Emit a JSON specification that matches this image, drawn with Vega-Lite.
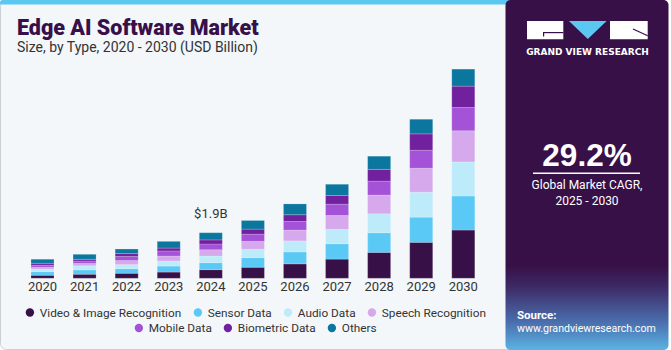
{
  "$schema": "https://vega.github.io/schema/vega-lite/v6.json",
  "width": 671,
  "height": 290,
  "autosize": {"type": "none"},
  "padding": {"top": 60, "left": 0, "right": 0, "bottom": 0},
  "background": "white",
  "config": {"view": {"stroke": null}, "font": "Roboto"},
  "datasets": {
    "bars": [
      {"year": "2020", "type": "Video & Image Recognition", "o": 1, "value": 0.125},
      {"year": "2020", "type": "Sensor Data", "o": 2, "value": 0.15},
      {"year": "2020", "type": "Audio Data", "o": 3, "value": 0.11},
      {"year": "2020", "type": "Speech Recognition", "o": 4, "value": 0.08},
      {"year": "2020", "type": "Mobile Data", "o": 5, "value": 0.08},
      {"year": "2020", "type": "Biometric Data", "o": 6, "value": 0.08},
      {"year": "2020", "type": "Others", "o": 7, "value": 0.17},
      {"year": "2021", "type": "Video & Image Recognition", "o": 1, "value": 0.17},
      {"year": "2021", "type": "Sensor Data", "o": 2, "value": 0.18},
      {"year": "2021", "type": "Audio Data", "o": 3, "value": 0.17},
      {"year": "2021", "type": "Speech Recognition", "o": 4, "value": 0.10},
      {"year": "2021", "type": "Mobile Data", "o": 5, "value": 0.10},
      {"year": "2021", "type": "Biometric Data", "o": 6, "value": 0.07},
      {"year": "2021", "type": "Others", "o": 7, "value": 0.21},
      {"year": "2022", "type": "Video & Image Recognition", "o": 1, "value": 0.21},
      {"year": "2022", "type": "Sensor Data", "o": 2, "value": 0.19},
      {"year": "2022", "type": "Audio Data", "o": 3, "value": 0.17},
      {"year": "2022", "type": "Speech Recognition", "o": 4, "value": 0.17},
      {"year": "2022", "type": "Mobile Data", "o": 5, "value": 0.17},
      {"year": "2022", "type": "Biometric Data", "o": 6, "value": 0.12},
      {"year": "2022", "type": "Others", "o": 7, "value": 0.19},
      {"year": "2023", "type": "Video & Image Recognition", "o": 1, "value": 0.26},
      {"year": "2023", "type": "Sensor Data", "o": 2, "value": 0.25},
      {"year": "2023", "type": "Audio Data", "o": 3, "value": 0.21},
      {"year": "2023", "type": "Speech Recognition", "o": 4, "value": 0.21},
      {"year": "2023", "type": "Mobile Data", "o": 5, "value": 0.21},
      {"year": "2023", "type": "Biometric Data", "o": 6, "value": 0.12},
      {"year": "2023", "type": "Others", "o": 7, "value": 0.28},
      {"year": "2024", "type": "Video & Image Recognition", "o": 1, "value": 0.36},
      {"year": "2024", "type": "Sensor Data", "o": 2, "value": 0.29},
      {"year": "2024", "type": "Audio Data", "o": 3, "value": 0.28},
      {"year": "2024", "type": "Speech Recognition", "o": 4, "value": 0.26},
      {"year": "2024", "type": "Mobile Data", "o": 5, "value": 0.24},
      {"year": "2024", "type": "Biometric Data", "o": 6, "value": 0.17},
      {"year": "2024", "type": "Others", "o": 7, "value": 0.30},
      {"year": "2025", "type": "Video & Image Recognition", "o": 1, "value": 0.46},
      {"year": "2025", "type": "Sensor Data", "o": 2, "value": 0.40},
      {"year": "2025", "type": "Audio Data", "o": 3, "value": 0.35},
      {"year": "2025", "type": "Speech Recognition", "o": 4, "value": 0.33},
      {"year": "2025", "type": "Mobile Data", "o": 5, "value": 0.30},
      {"year": "2025", "type": "Biometric Data", "o": 6, "value": 0.21},
      {"year": "2025", "type": "Others", "o": 7, "value": 0.36},
      {"year": "2026", "type": "Video & Image Recognition", "o": 1, "value": 0.60},
      {"year": "2026", "type": "Sensor Data", "o": 2, "value": 0.50},
      {"year": "2026", "type": "Audio Data", "o": 3, "value": 0.46},
      {"year": "2026", "type": "Speech Recognition", "o": 4, "value": 0.45},
      {"year": "2026", "type": "Mobile Data", "o": 5, "value": 0.36},
      {"year": "2026", "type": "Biometric Data", "o": 6, "value": 0.28},
      {"year": "2026", "type": "Others", "o": 7, "value": 0.45},
      {"year": "2027", "type": "Video & Image Recognition", "o": 1, "value": 0.80},
      {"year": "2027", "type": "Sensor Data", "o": 2, "value": 0.64},
      {"year": "2027", "type": "Audio Data", "o": 3, "value": 0.60},
      {"year": "2027", "type": "Speech Recognition", "o": 4, "value": 0.58},
      {"year": "2027", "type": "Mobile Data", "o": 5, "value": 0.47},
      {"year": "2027", "type": "Biometric Data", "o": 6, "value": 0.36},
      {"year": "2027", "type": "Others", "o": 7, "value": 0.47},
      {"year": "2028", "type": "Video & Image Recognition", "o": 1, "value": 1.08},
      {"year": "2028", "type": "Sensor Data", "o": 2, "value": 0.82},
      {"year": "2028", "type": "Audio Data", "o": 3, "value": 0.79},
      {"year": "2028", "type": "Speech Recognition", "o": 4, "value": 0.78},
      {"year": "2028", "type": "Mobile Data", "o": 5, "value": 0.58},
      {"year": "2028", "type": "Biometric Data", "o": 6, "value": 0.49},
      {"year": "2028", "type": "Others", "o": 7, "value": 0.55},
      {"year": "2029", "type": "Video & Image Recognition", "o": 1, "value": 1.50},
      {"year": "2029", "type": "Sensor Data", "o": 2, "value": 1.05},
      {"year": "2029", "type": "Audio Data", "o": 3, "value": 1.04},
      {"year": "2029", "type": "Speech Recognition", "o": 4, "value": 1.00},
      {"year": "2029", "type": "Mobile Data", "o": 5, "value": 0.75},
      {"year": "2029", "type": "Biometric Data", "o": 6, "value": 0.68},
      {"year": "2029", "type": "Others", "o": 7, "value": 0.61},
      {"year": "2030", "type": "Video & Image Recognition", "o": 1, "value": 2.01},
      {"year": "2030", "type": "Sensor Data", "o": 2, "value": 1.42},
      {"year": "2030", "type": "Audio Data", "o": 3, "value": 1.42},
      {"year": "2030", "type": "Speech Recognition", "o": 4, "value": 1.30},
      {"year": "2030", "type": "Mobile Data", "o": 5, "value": 0.97},
      {"year": "2030", "type": "Biometric Data", "o": 6, "value": 0.89},
      {"year": "2030", "type": "Others", "o": 7, "value": 0.71}
    ],
    "years": [
      {"year": "2020"}, {"year": "2021"}, {"year": "2022"}, {"year": "2023"},
      {"year": "2024"}, {"year": "2025"}, {"year": "2026"}, {"year": "2027"},
      {"year": "2028"}, {"year": "2029"}, {"year": "2030"}
    ],
    "legend2": [
      {"year": "2030", "type": "Mobile Data"},
      {"year": "2030", "type": "Biometric Data"},
      {"year": "2030", "type": "Others"}
    ],
    "note": [{"year": "2024", "v": 1.9, "label": "$1.9B"}],
    "one": [{}]
  },
  "layer": [
    {
      "data": {"name": "one"},
      "mark": {"type": "rect", "fill": "#F3F7FA", "stroke": "#C9CFD5", "strokeWidth": 1, "cornerRadius": 6},
      "encoding": {"x": {"value": 0.5}, "x2": {"value": 520}, "y": {"value": -59.5}, "y2": {"value": 289.5}}
    },
    {
      "data": {"name": "one"},
      "mark": {"type": "rect", "fill": "#5BC8F2", "cornerRadiusTopLeft": 5},
      "encoding": {"x": {"value": 0}, "x2": {"value": 520}, "y": {"value": -60}, "y2": {"value": -55.5}}
    },
    {
      "data": {"name": "one"},
      "mark": {
        "type": "rect",
        "cornerRadius": 5,
        "fill": {
          "gradient": "linear", "x1": 0, "y1": 0, "x2": 0, "y2": 1,
          "stops": [
            {"offset": 0, "color": "#381048"},
            {"offset": 0.76, "color": "#381048"},
            {"offset": 0.82, "color": "#3D2A66"},
            {"offset": 0.92, "color": "#4A6EAD"},
            {"offset": 1, "color": "#5BB3E3"}
          ]
        }
      },
      "encoding": {"x": {"value": 505.5}, "x2": {"value": 668.5}, "y": {"value": -60}, "y2": {"value": 290}}
    },
    {
      "data": {"name": "one"},
      "mark": {"type": "text", "text": "Edge AI Software Market", "font": "Roboto", "fontSize": 21.5, "fontWeight": 900, "color": "#37104A", "align": "left", "baseline": "alphabetic"},
      "encoding": {"x": {"value": 17}, "y": {"value": -25}}
    },
    {
      "data": {"name": "one"},
      "mark": {"type": "text", "text": "Size, by Type, 2020 - 2030 (USD Billion)", "font": "Roboto", "fontSize": 14, "color": "#333333", "align": "left", "baseline": "alphabetic"},
      "encoding": {"x": {"value": 17}, "y": {"value": -8}}
    },
    {
      "data": {"name": "bars"},
      "mark": {"type": "bar", "stroke": "#FFFFFF", "strokeOpacity": 0.3, "strokeWidth": 0.6},
      "encoding": {
        "x": {
          "field": "year", "type": "ordinal",
          "scale": {"type": "band", "range": [21.46, 484.34], "paddingInner": 0.453, "paddingOuter": 0.2265},
          "axis": null
        },
        "y": {
          "field": "value", "type": "quantitative", "stack": "zero",
          "scale": {"domain": [0, 9.1], "range": [218.3, 0], "nice": false, "zero": true},
          "axis": null
        },
        "color": {
          "field": "type", "type": "nominal",
          "scale": {
            "domain": ["Video & Image Recognition", "Sensor Data", "Audio Data", "Speech Recognition", "Mobile Data", "Biometric Data", "Others"],
            "range": ["#371048", "#5BC9F5", "#BDEBFA", "#D5A9EC", "#A452D8", "#71219E", "#0B779E"]
          },
          "legend": {
            "values": ["Video & Image Recognition", "Sensor Data", "Audio Data", "Speech Recognition"],
            "orient": "none", "legendX": 24, "legendY": 246.5, "direction": "horizontal",
            "title": null, "symbolType": "circle", "symbolSize": 70, "symbolStrokeWidth": 0,
            "labelFont": "Roboto", "labelFontSize": 11.8, "labelColor": "#333333",
            "labelOffset": 4, "columnPadding": 10, "padding": 0
          }
        },
        "order": {"field": "o", "type": "quantitative"}
      }
    },
    {
      "data": {"name": "legend2"},
      "mark": {"type": "bar"},
      "encoding": {
        "x": {"field": "year", "type": "ordinal"},
        "y": {"datum": 0, "type": "quantitative"},
        "fill": {
          "field": "type", "type": "nominal",
          "scale": {"domain": ["Mobile Data", "Biometric Data", "Others"], "range": ["#A452D8", "#71219E", "#0B779E"]},
          "legend": {
            "orient": "none", "legendX": 133, "legendY": 262, "direction": "horizontal",
            "title": null, "symbolType": "circle", "symbolSize": 70, "symbolStrokeWidth": 0,
            "labelFont": "Roboto", "labelFontSize": 11.8, "labelColor": "#333333",
            "labelOffset": 4, "columnPadding": 10, "padding": 0
          }
        }
      }
    },
    {
      "data": {"name": "years"},
      "mark": {"type": "text", "fontSize": 13, "color": "#333333", "baseline": "middle", "dy": 9},
      "encoding": {
        "x": {"field": "year", "type": "ordinal"},
        "y": {"datum": 0, "type": "quantitative"},
        "text": {"field": "year"}
      }
    },
    {
      "data": {"name": "note"},
      "mark": {"type": "text", "fontSize": 13, "color": "#333333", "baseline": "middle", "dy": -19},
      "encoding": {
        "x": {"field": "year", "type": "ordinal"},
        "y": {"field": "v", "type": "quantitative"},
        "text": {"field": "label"}
      }
    },
    {
      "data": {"name": "one"},
      "mark": {"type": "rect", "fill": "#FFFFFF"},
      "encoding": {"x": {"value": 527}, "x2": {"value": 563.3}, "y": {"value": -39}, "y2": {"value": -20.7}}
    },
    {
      "data": {"name": "one"},
      "mark": {"type": "rect", "fill": "#381048"},
      "encoding": {"x": {"value": 543}, "x2": {"value": 563.3}, "y": {"value": -28}, "y2": {"value": -26.8}}
    },
    {
      "data": {"name": "one"},
      "mark": {"type": "rect", "fill": "#381048"},
      "encoding": {"x": {"value": 543}, "x2": {"value": 544.2}, "y": {"value": -28}, "y2": {"value": -23.5}}
    },
    {
      "data": {"name": "one"},
      "mark": {"type": "point", "shape": "M-1,-0.48L1,-0.48L0,0.48Z", "filled": true, "fill": "#5BC8F2", "opacity": 1, "size": 1421, "strokeWidth": 0},
      "encoding": {"x": {"value": 587.8}, "y": {"value": -30}}
    },
    {
      "data": {"name": "one"},
      "mark": {"type": "rect", "fill": "#FFFFFF"},
      "encoding": {"x": {"value": 610}, "x2": {"value": 647.7}, "y": {"value": -39}, "y2": {"value": -20.7}}
    },
    {
      "data": {"name": "one"},
      "mark": {"type": "rule", "color": "#381048", "strokeWidth": 1.2},
      "encoding": {"x": {"value": 633}, "y": {"value": -31}, "x2": {"value": 647.7}, "y2": {"value": -24.3}}
    },
    {
      "data": {"name": "one"},
      "mark": {"type": "text", "text": "GRAND VIEW RESEARCH", "font": "DejaVu Sans", "fontWeight": "bold", "fontSize": 9, "color": "#FFFFFF", "align": "center", "baseline": "middle"},
      "encoding": {"x": {"value": 587.5}, "y": {"value": -8.3}}
    },
    {
      "data": {"name": "one"},
      "mark": {"type": "text", "text": "29.2%", "font": "Liberation Sans", "fontWeight": "bold", "fontSize": 31.5, "color": "#FFFFFF", "align": "center", "baseline": "alphabetic"},
      "encoding": {"x": {"value": 587}, "y": {"value": 105.7}}
    },
    {
      "data": {"name": "one"},
      "mark": {"type": "rule", "color": "#FFFFFF", "strokeWidth": 1.5},
      "encoding": {"x": {"value": 533}, "x2": {"value": 640}, "y": {"value": 113.3}}
    },
    {
      "data": {"name": "one"},
      "mark": {"type": "text", "text": "Global Market CAGR,", "fontSize": 12, "color": "#FFFFFF", "align": "center", "baseline": "middle"},
      "encoding": {"x": {"value": 587}, "y": {"value": 125}}
    },
    {
      "data": {"name": "one"},
      "mark": {"type": "text", "text": "2025 - 2030", "fontSize": 12, "color": "#FFFFFF", "align": "center", "baseline": "middle"},
      "encoding": {"x": {"value": 587}, "y": {"value": 141}}
    },
    {
      "data": {"name": "one"},
      "mark": {"type": "text", "text": "Source:", "fontSize": 11.5, "fontWeight": "bold", "color": "#FFFFFF", "align": "left", "baseline": "middle"},
      "encoding": {"x": {"value": 517}, "y": {"value": 255.7}}
    },
    {
      "data": {"name": "one"},
      "mark": {"type": "text", "text": "www.grandviewresearch.com", "fontSize": 10.6, "color": "#FFFFFF", "align": "left", "baseline": "middle"},
      "encoding": {"x": {"value": 517}, "y": {"value": 269.3}}
    }
  ]
}
